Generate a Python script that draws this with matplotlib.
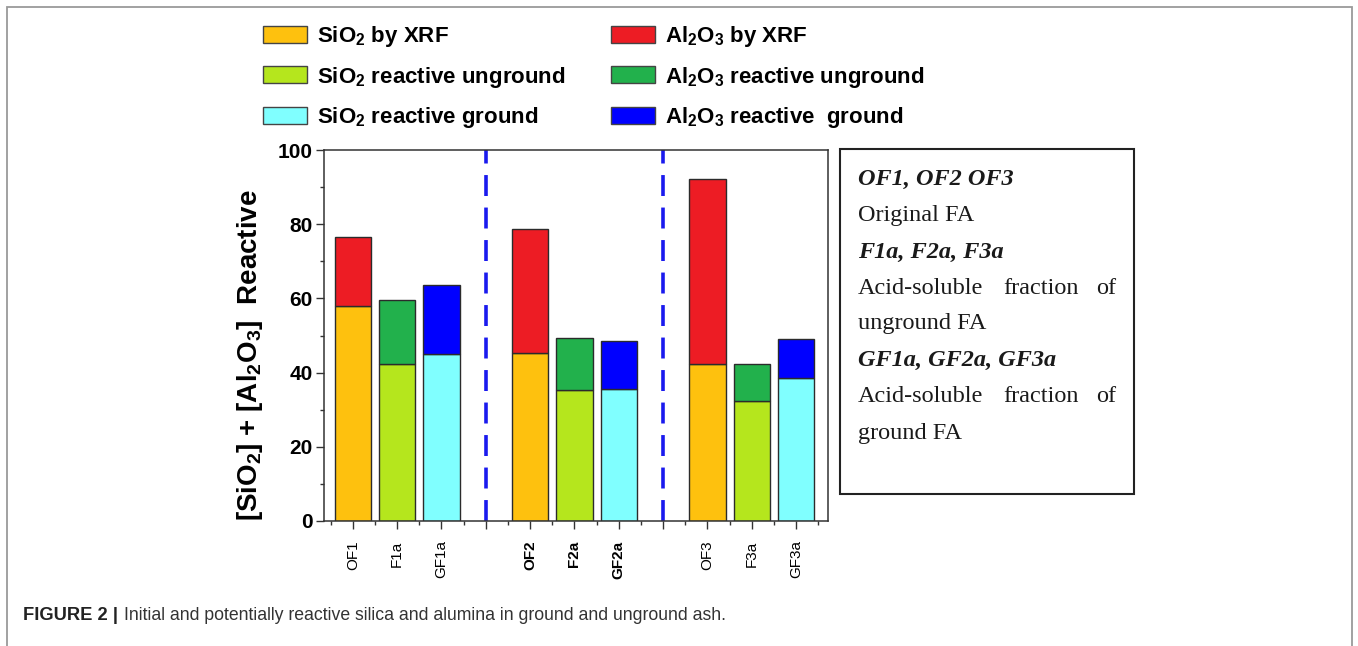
import matplotlib
matplotlib.use("Agg")
import matplotlib.pyplot as plt
from matplotlib.patches import Patch, Rectangle
from matplotlib.ticker import MultipleLocator
import numpy as np

plt.rcParams['font.family'] = ['Liberation Sans', 'DejaVu Sans']
plt.rcParams['mathtext.default'] = 'regular'

W, H = 1358, 646

# data
samples = ['OF1', 'F1a', 'GF1a', 'OF2', 'F2a', 'GF2a', 'OF3', 'F3a', 'GF3a']
positions = [1, 2, 3, 5, 6, 7, 9, 10, 11]
sio2 = [58.0, 42.2, 45.1, 45.2, 35.4, 35.6, 42.4, 32.4, 38.5]
al2o3 = [18.6, 17.4, 18.4, 33.6, 13.8, 12.8, 49.7, 10.0, 10.5]
kind = [0, 1, 2, 0, 1, 2, 0, 1, 2]   # 0 = XRF, 1 = unground, 2 = ground
dividers = [4, 8]
bold_labels = ['OF2', 'F2a', 'GF2a']

sio2_colors = ['#FEC10E', '#B5E61D', '#80FFFF']
al2o3_colors = ['#ED1C24', '#22B14C', '#0000FF']
sio2_names = [r'SiO$_2$ by XRF', r'SiO$_2$ reactive unground', r'SiO$_2$ reactive ground']
al2o3_names = [r'Al$_2$O$_3$ by XRF', r'Al$_2$O$_3$ reactive unground', r'Al$_2$O$_3$ reactive  ground']

def fx(x):
    return x / W

def fy(y):
    return 1 - y / H

fig = plt.figure(figsize=(W / 100, H / 100), dpi=100)
ax = fig.add_axes([fx(324), fy(521), (828 - 324) / W, (521 - 150) / H])

edge = '#2b2b2b'
ax.bar(positions, sio2, width=0.82, color=[sio2_colors[k] for k in kind],
       edgecolor=edge, linewidth=1.0, zorder=2)
ax.bar(positions, al2o3, width=0.82, bottom=sio2, color=[al2o3_colors[k] for k in kind],
       edgecolor=edge, linewidth=1.0, zorder=2)
for d in dividers:
    ax.axvline(d, color='#1a1aee', linewidth=2.6, linestyle=(0, (5.8, 3.2)), zorder=1)

ax.set_xlim(0.35, 11.72)
ax.set_ylim(0, 100)
ax.set_yticks(np.arange(0, 101, 20))
ax.yaxis.set_minor_locator(MultipleLocator(10))
ax.set_xticks(range(1, 12))
lab = {p: s for p, s in zip(positions, samples)}
ax.set_xticklabels([lab.get(i, '') for i in range(1, 12)], rotation=90, fontsize=11)
for t in ax.get_xticklabels():
    if t.get_text() in bold_labels:
        t.set_fontweight('bold')
ax.xaxis.set_minor_locator(MultipleLocator(0.5))
ax.tick_params(axis='both', which='major', direction='out', length=6, width=1.0, color='#333333')
ax.tick_params(axis='both', which='minor', direction='out', length=3, width=1.0, color='#333333')
ax.tick_params(axis='x', which='major', pad=8)
ax.tick_params(axis='y', which='major', pad=2, labelsize=15)
for t in ax.get_yticklabels():
    t.set_fontweight('bold')
for s in ax.spines.values():
    s.set_color('#333333')
    s.set_linewidth(1.1)

ax.set_ylabel(r'[SiO$_2$] + [Al$_2$O$_3$]  Reactive', fontsize=20, fontweight='bold')
ax.yaxis.set_label_coords(-0.117, 0.447)

# legend above the plot
handles = [Patch(facecolor=c, edgecolor='#444444', linewidth=1.0) for c in sio2_colors + al2o3_colors]
fig.legend(handles, sio2_names + al2o3_names, ncol=2, loc='upper left',
           bbox_to_anchor=(fx(263), fy(24)), frameon=False,
           prop={'weight': 'bold', 'size': 16},
           handlelength=2.0, handleheight=0.8, handletextpad=0.45,
           labelspacing=0.7, columnspacing=2.0, borderpad=0, borderaxespad=0)

# explanation box
fig.add_artist(Rectangle((fx(840), fy(494)), (1134 - 840) / W, (494 - 149) / H,
                         transform=fig.transFigure, fill=False, edgecolor='#222222', linewidth=1.5))
serif = ['Liberation Serif', 'DejaVu Serif']
box_fs = 17.5
box_lines = [
    (179, 'OF1, OF2 OF3', True),
    (216, 'Original FA', False),
    (252, 'F1a, F2a, F3a', True),
    (324, 'unground FA', False),
    (360, 'GF1a, GF2a, GF3a', True),
    (433, 'ground FA', False),
]
for y, s, em in box_lines:
    fig.text(fx(858), fy(y), s, fontsize=box_fs, family=serif, color='#1a1a1a',
             fontweight='bold' if em else 'normal', fontstyle='italic' if em else 'normal',
             ha='left', va='center')
for y in (288, 397):
    fig.text(fx(858), fy(y), 'Acid-soluble', fontsize=box_fs, family=serif, color='#1a1a1a', ha='left', va='center')
    fig.text(fx(1041), fy(y), 'fraction', fontsize=box_fs, family=serif, color='#1a1a1a', ha='center', va='center')
    fig.text(fx(1116), fy(y), 'of', fontsize=box_fs, family=serif, color='#1a1a1a', ha='right', va='center')

# outer frame and caption
fig.add_artist(Rectangle((fx(7), -0.05), (1352 - 7) / W, fy(7) + 0.05,
                         transform=fig.transFigure, fill=False, edgecolor='#9a9a9a', linewidth=1.3))
fig.text(fx(23), fy(615), 'FIGURE 2 |', fontsize=13.2, fontweight='bold', color='#222222',
         ha='left', va='center')
fig.text(fx(124), fy(615), 'Initial and potentially reactive silica and alumina in ground and unground ash.',
         fontsize=12.7, color='#333333', ha='left', va='center')

fig.savefig('out.png', dpi=100)
